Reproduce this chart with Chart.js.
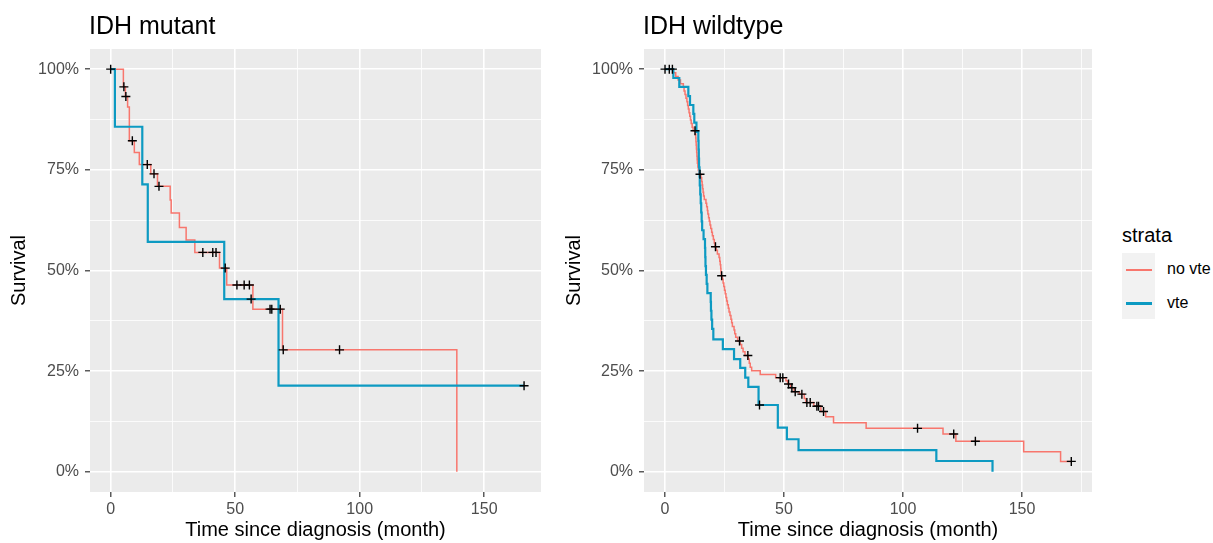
<!DOCTYPE html>
<html>
<head>
<meta charset="utf-8">
<script src="https://cdn.jsdelivr.net/npm/chart.js@4"></script>
<style>
  body { margin: 0; background: #fff; font-family: 'Liberation Sans', Arial, sans-serif; }
  #wrap { position: relative; width: 1213px; height: 543px; overflow: hidden; }
  canvas { position: absolute; top: 0; }
  .title { position: absolute; font-size: 25px; line-height: 25px; color: #000; white-space: nowrap; }
  .leg { position: absolute; white-space: nowrap; color: #000; }
</style>
</head>
<body>
<div id="wrap">
  <canvas id="mutant" width="550" height="543" style="left:0"></canvas>
  <canvas id="wildtype" width="545" height="543" style="left:555px"></canvas>
  <div class="title" style="left:89px; top:13px">IDH mutant</div>
  <div class="title" style="left:643px; top:13px">IDH wildtype</div>
  <div class="leg" style="left:1122px; top:225px; font-size:20px; line-height:20px">strata</div>
  <div class="leg" style="left:1122px; top:253px; width:33px; height:66px; background:#F2F2F2"></div>
  <div class="leg" style="left:1126px; top:269px; width:26px; height:2px; background:#F8766D"></div>
  <div class="leg" style="left:1126px; top:302px; width:26px; height:2.5px; background:#0D9AC2"></div>
  <div class="leg" style="left:1167px; top:261px; font-size:16px; line-height:16px">no vte</div>
  <div class="leg" style="left:1167px; top:295px; font-size:16px; line-height:16px">vte</div>
</div>
<script>
// IDH mutant
const mutNoVteTime = [0, 5.1, 5.9, 6.8, 7.5, 9.5, 11.5, 16.1, 18.8, 23.9, 24.3, 27.6, 30.3, 33.8, 43.7, 46.6, 57.1, 69.0, 139.0];
const mutNoVteSurv = [100, 95.6, 93.2, 90.6, 82.2, 79.3, 76.3, 74.0, 70.9, 67.5, 64.3, 60.7, 57.6, 54.5, 50.6, 46.4, 40.4, 30.3, 0];
const mutNoVteCensor = [0, 5.3, 6.1, 8.7, 14.7, 17.4, 19.4, 37, 41, 42.3, 46, 50.7, 53.6, 55.7, 64, 64.7, 68.1, 69.3, 91.9];

const mutVteTime = [0, 1.7, 12.7, 14.9, 45.6, 67.4, 166];
const mutVteSurv = [100, 85.7, 71.4, 57.1, 42.9, 21.4, 21.4];
const mutVteCensor = [56.4, 166];

// IDH wildtype
const wtNoVteTime = [0, 3.5, 4.5, 5.5, 6.5, 7.7, 8.0, 8.4, 8.8, 9.2, 9.5, 9.8, 10.1, 10.4, 10.7, 11.0, 11.4, 11.8,
  12.8, 12.9, 13.0, 13.1, 13.2, 13.3, 13.4, 13.5, 13.6, 13.8, 14.0, 14.3,
  15.1, 15.4, 15.6, 15.8, 16.0, 16.2, 16.5, 17.2, 17.5, 17.8, 18.0, 18.3, 18.6, 18.9, 19.2, 19.6, 19.9, 20.3, 20.7, 21.0,
  21.5, 22.0, 22.7, 23.0, 23.2, 23.4, 23.5, 23.6, 24.1, 24.4, 24.7, 25.0, 25.3, 25.6, 25.9, 26.2, 26.6, 26.9, 27.3, 27.7,
  28.0, 28.3, 29.0, 29.3, 29.7, 30.5, 31.6, 32.2, 32.8, 33.6, 35.0, 35.4, 35.8, 36.4, 40.0, 46.5,
  50.8, 51.5, 52.8, 54.2, 56.5, 58.5, 59.2, 62.5, 65.5, 67.5, 70.8, 84.5, 116.8, 122.2, 150.7, 166.2, 170.7];
const wtNoVteSurv = [100, 99.1, 98.2, 97.3, 96.4, 95.5, 94.6, 93.7, 92.8, 91.9, 91.0, 90.1, 89.2, 88.3, 87.4, 86.5, 85.6, 84.7,
  83.8, 82.9, 82.0, 81.1, 80.2, 79.3, 78.4, 77.5, 76.6, 75.7, 74.8, 73.9,
  73.0, 72.1, 71.2, 70.3, 69.4, 68.5, 67.6, 66.7, 65.8, 64.9, 64.0, 63.1, 62.2, 61.3, 60.4, 59.5, 58.6, 57.7, 56.8, 55.9,
  55.0, 54.1, 53.2, 52.3, 51.4, 50.5, 49.6, 48.7, 47.8, 46.9, 46.0, 45.1, 44.2, 43.3, 42.4, 41.5, 40.6, 39.7, 38.8, 37.9,
  37.0, 36.1, 35.2, 34.3, 33.4, 32.5, 31.6, 30.7, 29.8, 28.9, 28.0, 27.0, 26.0, 25.1, 24.2, 23.4,
  22.6, 21.8, 20.9, 19.9, 19.3, 18.2, 17.2, 16.3, 15.0, 13.7, 12.2, 10.8, 9.4, 7.6, 5.0, 2.6, 2.6];
const wtNoVteCensor = [0, 1.8, 3.1, 12.6, 14.7, 21.2, 23.8, 31.3, 34.8, 48.4, 49.5, 51.9, 53.3, 54.7, 57.5, 59.6, 61.0,
  63.8, 64.5, 66.6, 106.1, 121.3, 130.4, 170.7];

const wtVteTime = [0, 3.5, 6.0, 9.8, 10.5, 11.9, 12.3, 13.2, 14.0, 14.1, 14.2, 14.3, 14.5, 14.6, 14.8, 15.0, 15.2, 15.4, 15.6,
  16.2, 16.8, 16.9, 17.0, 17.2, 17.5, 17.8, 19.2, 19.3, 19.5, 19.8, 20.3, 24.3, 29.0, 31.6, 33.7, 35.0, 39.3,
  47.4, 51.2, 56.1, 114.0, 137.6];
const wtVteSurv = [100, 97.8, 95.6, 93.3, 91.1, 88.9, 86.7, 84.4, 82.2, 80.0, 77.8, 75.6, 73.3, 71.1, 68.9, 66.7, 64.4, 62.2, 60.0,
  57.8, 55.6, 53.3, 51.1, 48.9, 46.7, 44.4, 42.2, 40.0, 37.8, 35.5, 32.9, 30.5, 28.0, 25.8, 23.4, 21.1, 16.6,
  11.0, 8.1, 5.4, 2.7, 0];
const wtVteCensor = [39.7];

const survTicks = [0, 12.5, 25, 37.5, 50, 62.5, 75, 87.5, 100];
const timeTicks = [0, 25, 50, 75, 100, 125, 150, 175];

const RED = '#F8766D';
const BLUE = '#0D9AC2';
const FONT = "'Liberation Sans', Arial, sans-serif";

// value of the step curve at a censoring time
function survAt(times, surv, t) {
  let s = surv[0];
  for (let i = 0; i < times.length; i++) {
    if (times[i] <= t) s = surv[i];
  }
  return s;
}

function curve(times, surv) {
  return times.map((t, i) => ({ x: t, y: surv[i] }));
}

function censorPts(times, surv, cens) {
  return cens.map(t => ({ x: t, y: survAt(times, surv, t) }));
}

const panelBg = {
  id: 'panelBg',
  beforeDraw(chart) {
    const { ctx, chartArea: a } = chart;
    ctx.save();
    ctx.fillStyle = '#EBEBEB';
    ctx.fillRect(a.left, a.top, a.right - a.left, a.bottom - a.top);
    ctx.restore();
  }
};

function makeChart(id, s, xmin, xmax, padRight, yWidth) {
  const ctx = document.getElementById(id).getContext('2d');
  new Chart(ctx, {
    type: 'line',
    data: {
      datasets: [
        // horizontal first, then drop: KM step
        { data: curve(s.noT, s.noS), borderColor: RED, borderWidth: 1.5, stepped: 'before', pointRadius: 0, fill: false, order: 2 },
        { data: curve(s.vT, s.vS), borderColor: BLUE, borderWidth: 2.2, stepped: 'before', pointRadius: 0, fill: false, order: 1 },
        { data: censorPts(s.noT, s.noS, s.noC).concat(censorPts(s.vT, s.vS, s.vC)), showLine: false,
          pointStyle: 'cross', pointRadius: 4.5, pointBorderColor: '#000', pointBorderWidth: 1.4, order: 0 }
      ]
    },
    options: {
      responsive: false,
      animation: false,
      events: [],
      layout: { padding: { top: 49, right: padRight, left: 0, bottom: 0 } },
      plugins: { legend: { display: false }, tooltip: { enabled: false } },
      scales: {
        x: {
          type: 'linear', min: xmin, max: xmax,
          afterBuildTicks: sc => { sc.ticks = timeTicks.filter(v => v >= sc.min && v <= sc.max).map(v => ({ value: v })); },
          afterFit: sc => { sc.height = 51; },
          border: { display: false },
          grid: {
            color: '#FFFFFF',
            lineWidth: c => (c.tick && c.tick.value % 50 === 0 ? 1.6 : 0.8),
            tickColor: c => (c.tick && c.tick.value % 50 === 0 ? '#333333' : 'rgba(0,0,0,0)'),
            tickLength: 5, tickWidth: 1.2
          },
          ticks: {
            autoSkip: false, maxRotation: 0, padding: 3, color: '#4D4D4D',
            font: { family: FONT, size: 16 },
            callback: v => (v % 50 === 0 ? String(v) : '')
          },
          title: { display: true, text: 'Time since diagnosis (month)', color: '#000',
            font: { family: FONT, size: 20 }, padding: { top: 0, bottom: 1 } }
        },
        y: {
          type: 'linear', min: -5, max: 105,
          afterBuildTicks: sc => { sc.ticks = survTicks.map(v => ({ value: v })); },
          afterFit: sc => { sc.width = yWidth; },
          border: { display: false },
          grid: {
            color: '#FFFFFF',
            lineWidth: c => (c.tick && c.tick.value % 25 === 0 ? 1.6 : 0.8),
            tickColor: c => (c.tick && c.tick.value % 25 === 0 ? '#333333' : 'rgba(0,0,0,0)'),
            tickLength: 5, tickWidth: 1.2
          },
          ticks: {
            autoSkip: false, padding: 6, color: '#4D4D4D',
            font: { family: FONT, size: 16 },
            callback: v => (v % 25 === 0 ? v + '%' : '')
          },
          title: { display: true, text: 'Survival', color: '#000',
            font: { family: FONT, size: 20 }, padding: { top: 7, bottom: 0 } }
        }
      }
    },
    plugins: [panelBg]
  });
}

document.addEventListener('DOMContentLoaded', () => {
  makeChart('mutant',
    { noT: mutNoVteTime, noS: mutNoVteSurv, noC: mutNoVteCensor, vT: mutVteTime, vS: mutVteSurv, vC: mutVteCensor },
    -8.3, 172.8, 9, 90);
  makeChart('wildtype',
    { noT: wtNoVteTime, noS: wtNoVteSurv, noC: wtNoVteCensor, vT: wtVteTime, vS: wtVteSurv, vC: wtVteCensor },
    -8.83, 179.4, 8, 89);
});
</script>
</body>
</html>
